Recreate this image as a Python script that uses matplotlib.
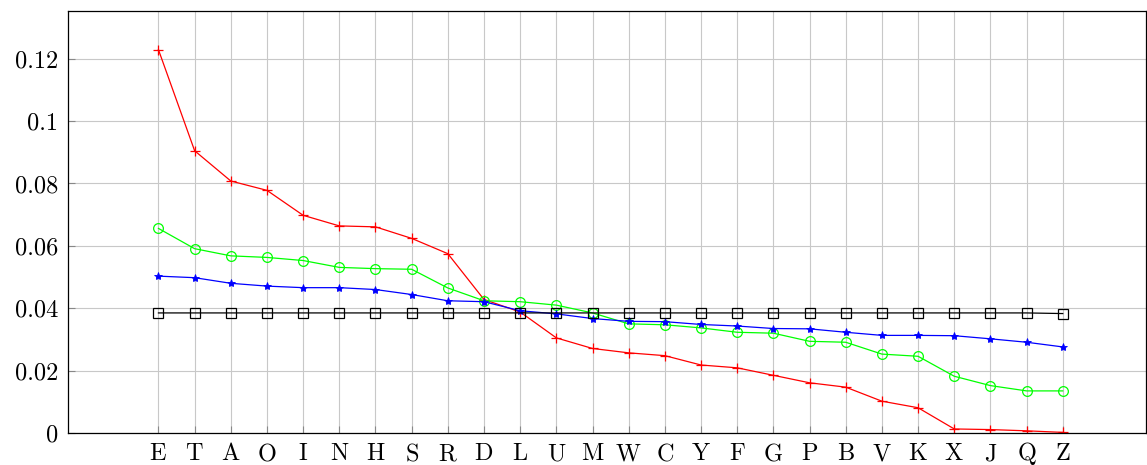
import matplotlib
matplotlib.use('Agg')
import matplotlib.pyplot as plt

letters = list('ETAOINHSRDLUMWCYFGPBVKXJQZ')

# observed letter frequencies (red)
freq_red = [0.1229, 0.0905, 0.0808, 0.0778, 0.0698, 0.0664, 0.0661, 0.0624, 0.0575, 0.0428,
            0.0388, 0.0305, 0.0271, 0.0257, 0.0248, 0.0218, 0.0209, 0.0185, 0.0161, 0.0147,
            0.0102, 0.0081, 0.0013, 0.0011, 0.0007, 0.0002]
freq_green = [0.0656, 0.0591, 0.0568, 0.0563, 0.0553, 0.0531, 0.0527, 0.0525, 0.0465, 0.0424,
              0.0421, 0.0410, 0.0385, 0.0350, 0.0347, 0.0337, 0.0323, 0.0320, 0.0294, 0.0291,
              0.0253, 0.0246, 0.0182, 0.0152, 0.0135, 0.0135]
freq_blue = [0.0503, 0.0498, 0.0480, 0.0471, 0.0466, 0.0466, 0.0460, 0.0444, 0.0424, 0.0421,
             0.0392, 0.0382, 0.0367, 0.0358, 0.0357, 0.0348, 0.0343, 0.0335, 0.0334, 0.0323,
             0.0313, 0.0313, 0.0312, 0.0302, 0.0291, 0.0276]
freq_black = [0.0385] * 25 + [0.0383]

y_ticks = [0, 0.02, 0.04, 0.06, 0.08, 0.1, 0.12]
y_tick_labels = ['0', '0.02', '0.04', '0.06', '0.08', '0.1', '0.12']

plt.rcParams['font.family'] = ['cmr10', 'DejaVu Serif']
plt.rcParams['mathtext.fontset'] = 'cm'

fig = plt.figure(figsize=(11.47, 4.65), dpi=100)
ax = fig.add_axes([0.0593, 0.0688, 0.9398, 0.9075])

x = list(range(len(letters)))
ax.plot(x, freq_red, color='red', marker='+', markersize=7, lw=0.9, mew=0.9)
ax.plot(x, freq_green, color='#00ff00', marker='o', markersize=7, lw=0.9, mew=0.9,
        markerfacecolor='none')
ax.plot(x, freq_blue, color='blue', marker='*', markersize=6, lw=0.9, mew=0.6)
ax.plot(x, freq_black, color='black', marker='s', markersize=7, lw=0.9, mew=0.9,
        markerfacecolor='none')

ax.set_xlim(-2.5, 27.3)
ax.set_ylim(0, 0.1353)
ax.set_xticks(x)
# mathtext keeps all letters on a common baseline
ax.set_xticklabels([r'$\mathrm{%s}$' % c for c in letters])
ax.set_yticks(y_ticks)
ax.set_yticklabels(y_tick_labels)
ax.tick_params(direction='in', length=5, color='#888888', labelsize=17.5, width=0.8)
ax.tick_params(axis='x', pad=19.5)
for lbl in ax.get_xticklabels():
    lbl.set_verticalalignment('baseline')
ax.tick_params(axis='y', pad=7)
ax.grid(True, color='#c8c8c8', lw=0.8)
ax.set_axisbelow(True)
for s in ax.spines.values():
    s.set_linewidth(0.9)

fig.savefig('out.png', dpi=100)
